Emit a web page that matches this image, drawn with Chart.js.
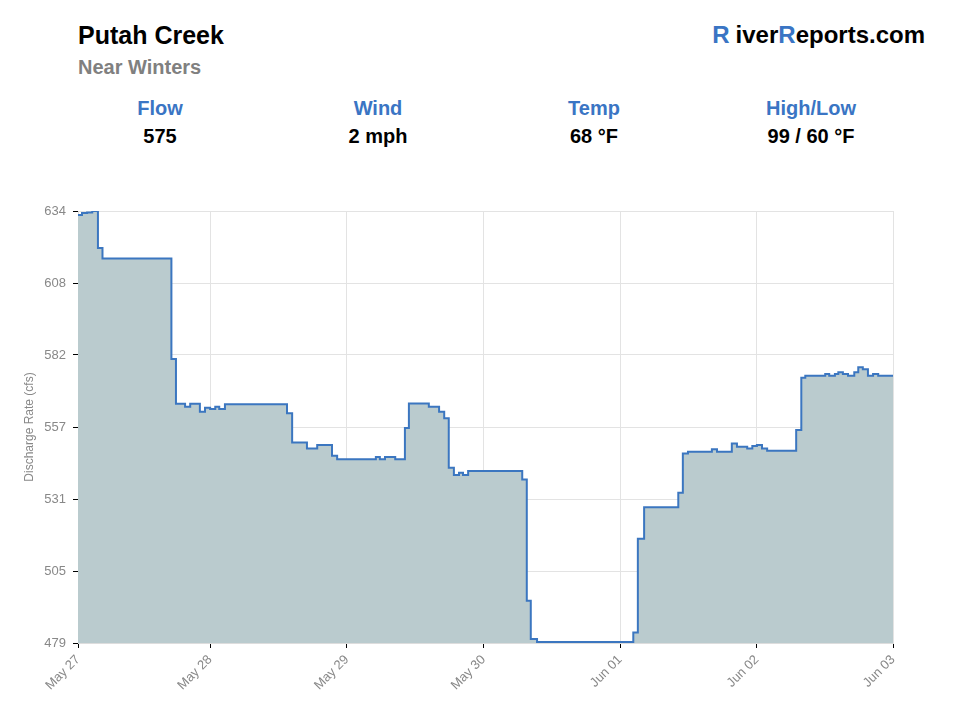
<!DOCTYPE html>
<html>
<head>
<meta charset="utf-8">
<script src="https://cdn.jsdelivr.net/npm/chart.js@4"></script>
<style>
  body { margin: 0; width: 960px; height: 720px; background: #fff; font-family: "Liberation Sans", Arial, sans-serif; position: relative; overflow: hidden; }
  .title { position: absolute; left: 78px; top: 21px; font-size: 25px; font-weight: bold; color: #000; }
  .sub { position: absolute; left: 78px; top: 56px; font-size: 20px; font-weight: bold; color: #808080; }
  .brand { position: absolute; right: 35px; top: 21px; font-size: 24px; font-weight: bold; color: #000; }
  .brand span { color: #3a75c4; }
  .brand .r1 { margin-right: 6px; }
  .stat { position: absolute; width: 200px; text-align: center; font-weight: bold; font-size: 20px; }
  .stat .lbl { color: #3a75c4; position: absolute; top: 1px; width: 100%; }
  .stat .val { color: #000; position: absolute; top: 29px; width: 100%; }
  #wrap { position: absolute; left: 0; top: 180px; width: 960px; height: 540px; }
</style>
</head>
<body>
<div class="title">Putah Creek</div>
<div class="sub">Near Winters</div>
<div class="brand"><span class="r1">R</span>iver<span>R</span>eports.com</div>
<div id="stats"></div>
<div id="wrap"><canvas id="graphs"></canvas></div>
<script>
// Données (heures depuis le début, débit en cfs)
var heures = [0, 0.7, 1.6, 2.5, 3.5, 4.3, 16.4, 17.2, 18.8, 19.7, 21.4, 22.3, 23.2, 24.1, 24.8, 25.8,
    36.7, 37.6, 40.2, 42.0, 44.6, 45.5, 52.3, 53.0, 53.9, 55.7, 57.4, 58.1, 61.6, 63.4, 64.3, 65.1,
    66.0, 66.9, 67.6, 68.5, 78.0, 78.8, 79.5, 80.6, 97.5, 98.3, 99.4, 105.4, 106.2, 107.1, 111.3,
    112.2, 114.8, 115.7, 117.5, 118.4, 119.2, 120.1, 121.0, 126.1, 127.0, 127.7, 131.2, 131.9,
    132.9, 133.5, 134.3, 135.2, 136.3, 137.0, 137.8, 138.7, 139.6, 140.5, 143.1];
var debit = [632.6, 633.3, 633.5, 634, 620.7, 617, 580.9, 564.8, 563.8, 564.8, 562, 563.4, 563, 563.8, 563, 564.7,
    561.4, 550.9, 548.8, 550, 546.2, 544.9, 545.7, 544.9, 545.7, 544.9, 556.1, 564.9, 563.8, 562, 559.6, 541.9,
    539.3, 540.1, 539.3, 540.7, 537.7, 494.2, 480.4, 479.4, 482.8, 516.4, 527.7, 532.9, 547, 547.6, 548.5,
    547.6, 550.6, 549.4, 548.8, 549.7, 550, 548.8, 548, 555.4, 574.2, 574.9, 575.5, 574.9,
    575.5, 576.1, 575.5, 574.9, 576.1, 577.9, 577.2, 574.9, 575.5, 574.9, 574.9];

// Axe X : positions des graduations (heures) et libellés
var ticksX = [0, 23.2, 47.2, 71.2, 95.2, 119.2, 143.1];
var labelsX = ["May 27", "May 28", "May 29", "May 30", "Jun 01", "Jun 02", "Jun 03"];

// Axe Y
var minY = 479;
var maxY = 634;
var nbPasY = 6;

// Bandeau de stats
var statNoms = ["Flow", "Wind", "Temp", "High/Low"];
var statValeurs = ["575", "2 mph", "68 °F", "99 / 60 °F"];
var statCentres = [160, 378, 594, 811];

var html = "";
for (var i = 0; i < statNoms.length; i++) {
    html += "<div class='stat' style='left:" + (statCentres[i] - 100) + "px;top:96px'><div class='lbl'>" + statNoms[i] + "</div><div class='val'>" + statValeurs[i] + "</div></div>";
}
document.getElementById("stats").innerHTML = html;

var points = [];
for (var i = 0; i < heures.length; i++) {
    points.push({x: heures[i], y: debit[i]});
}

Chart.defaults.font.family = "'Liberation Sans', Arial, sans-serif";

var ctx = document.getElementById('graphs').getContext('2d');
window.myChart = new Chart(ctx, {
    type: 'line',
    data: {
        datasets: [{
            data: points,
            stepped: true,
            borderColor: '#3b76c0',
            borderWidth: 2,
            backgroundColor: '#bacbce',
            fill: 'start',
            pointRadius: 0
        }]
    },
    options: {
        responsive: true,
        maintainAspectRatio: false,
        animation: false,
        layout: { padding: { top: 31, right: 67, left: 0, bottom: 0 } },
        plugins: { legend: { display: false }, tooltip: { enabled: false } },
        scales: {
            x: {
                type: 'linear',
                min: ticksX[0],
                max: ticksX[ticksX.length - 1],
                afterBuildTicks: function(scale) {
                    scale.ticks = ticksX.map(function(v) { return {value: v}; });
                },
                afterFit: function(scale) { scale.height = 77; },
                ticks: {
                    autoSkip: false,
                    maxRotation: 45,
                    minRotation: 45,
                    color: '#888',
                    font: { size: 13 },
                    padding: 4,
                    callback: function(v, idx) { return labelsX[idx]; }
                },
                grid: { color: '#e3e3e3', tickColor: '#000', tickLength: 5 },
                border: { color: '#ddd' }
            },
            y: {
                min: minY,
                max: maxY,
                afterBuildTicks: function(scale) {
                    var t = [];
                    for (var k = 0; k <= nbPasY; k++) t.push({value: minY + (maxY - minY) * k / nbPasY});
                    scale.ticks = t;
                },
                afterFit: function(scale) { scale.width = 78; },
                ticks: {
                    color: '#888',
                    font: { size: 13 },
                    padding: 7,
                    callback: function(v) { return Math.round(v); }
                },
                title: { display: true, text: 'Discharge Rate (cfs)', color: '#888', font: { size: 12 }, padding: { top: 22, bottom: 0 } },
                grid: { color: '#e3e3e3', tickColor: '#000', tickLength: 5 },
                border: { color: '#ddd' }
            }
        }
    }
});
</script>
</body>
</html>
